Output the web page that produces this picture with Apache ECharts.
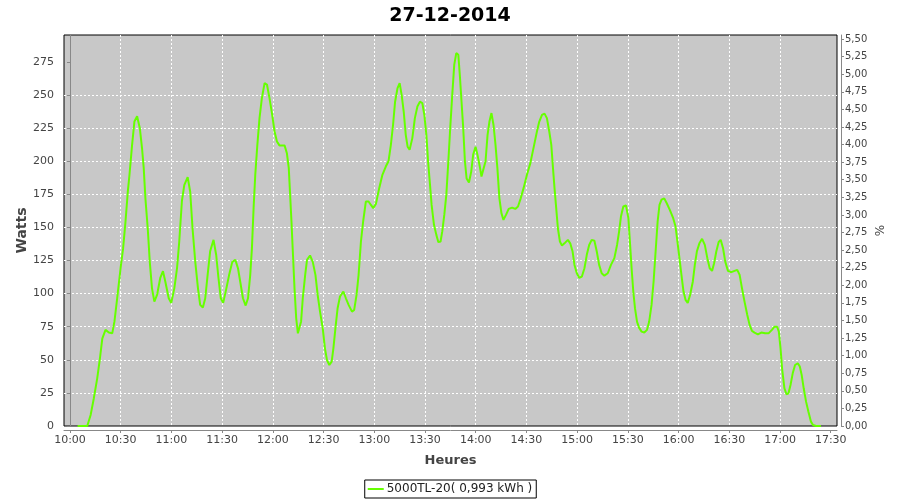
<!DOCTYPE html>
<html><head><meta charset="utf-8">
<script src="https://cdn.jsdelivr.net/npm/echarts@6/dist/echarts.min.js"></script>
<style>html,body{margin:0;padding:0;background:#fff}#c{width:900px;height:500px}</style>
</head><body><div id="c"></div>
<script>
const chartTitle = '27-12-2014';
const seriesName = '5000TL-20( 0,993 kWh )';
const xName = 'Heures';
const yLeftName = 'Watts';
const yRightName = '%';
// minutes after 10:00
const minutes = [4.5,10.2,12.2,14.1,16.1,17.7,19.1,21,23,25,26.3,27.9,29.9,31.4,32.8,34.2,35.2,36.7,38.1,39.7,41.3,42.6,43.6,44.6,46,47.2,48.5,49.9,51.5,53.4,55,56.4,58.4,59.9,61.7,63.3,64.6,66.2,67.6,69.6,71.1,72.5,74.1,75.7,77,78.6,80,81.4,82.9,84.9,86.5,87.8,89.2,90.6,92.5,94.1,96,97.8,99.4,100.7,102.3,103.9,105.3,106.6,107.6,108.6,109.6,110.8,112.1,113.5,115.1,116.5,118,119.6,121,122.4,123.9,126.9,128.3,129.4,130.2,131,131.8,132.8,133.8,134.8,135.7,136.7,137.7,139.1,140.2,142,143.6,145.2,146.5,147.9,149.5,150.8,152,153.4,154.8,155.8,157,158.3,159.7,161.7,163.2,164.8,166.8,168.1,169.5,170.7,172.1,173.4,175,176.6,178,179.4,181,182.9,184.8,186.8,188.4,189.8,191.1,192.3,193.7,195,196.2,197.4,198.6,199.7,200.9,202.5,204,205.5,207,208.4,209.6,210.8,211.8,212.8,213.9,215.3,216.7,217.9,219.2,220.2,221.4,222.6,223.8,224.9,226.1,227.3,228.5,229.7,230.6,231.6,232.6,233.6,234.6,236,237.3,238.5,239.9,241,242.4,243.4,244.4,245.8,247,248.1,249.3,250.5,251.7,252.8,254,255.2,256.4,257.9,259.5,261.5,263.4,265,266.6,268.3,270.3,272.3,274.5,276.2,277.6,279.2,280.7,282.1,283.5,284.7,285.7,286.6,287.6,288.6,289.8,291,292.5,294.5,295.9,297.3,298.4,299.8,301.2,302.8,304.3,305.7,307.1,308.6,310.2,311.6,313,314.5,316.1,318.1,320,322,323.6,324.8,325.9,327.3,328.9,330.3,331.2,332.2,333.2,334.2,335.4,336.6,338.1,339.7,341.3,342.6,344,345.2,346.4,347.6,348.7,349.9,351.5,353,354.8,356.8,358.2,359.3,360.5,361.7,362.9,364.1,365.4,366.8,368.4,369.6,370.8,372.3,373.9,375.5,377,378.4,379.8,381,382.3,383.7,384.9,386.3,387.6,389.2,391.2,393.1,394.7,396.1,397.5,399,400.6,402,403.4,404.9,406.9,408.9,411.2,413.2,415.2,416.7,418.3,419.3,420.3,421.2,422.6,423.8,425,426.2,427.5,428.9,430.5,431.7,432.8,434,435.4,436.8,438.3,439.5,441.3,444.2];
const watts = [0,0,8.3,21,36,51,66,72.6,70.6,70,79,96.5,119,134,154,177,190,212,230,234,225,210,195,172,149,124,104,94,99,112,117,109,96.5,93,104,119,139,170,182,188,177,149,124,104,91.5,89.5,96.5,114,132,140.6,129,112,96.5,93,104,114,124,125.5,119,109,96.5,91,96.5,114,134,164.6,190,212,232.6,247.7,259,258,247.7,235,222.5,215,212,212,206,195,175,154.5,132,104,81.4,70,69,79,96.5,114,125.5,128.8,124,114,99,86.4,73.8,58.7,49.9,46.1,48.6,58.7,73.8,89,97.8,101.6,96.5,91.5,86.4,87.7,99,114,139.4,154.5,169.6,169.6,167,164.6,168,179.7,189.8,196,200,212.4,227.6,245,255,259,250,237.6,220,211,208.7,217.5,232.6,241.4,245,244,235,220,200,184.7,167,152,144.4,138.9,139.4,147,159.5,174.6,200,225,250,273,281.7,280.5,265,245,225,200,187,184,192,205,211,205,196,188.5,188.5,200,220,230,236.4,227.6,212.4,195,172,160.8,155.7,159.5,164,165,164,165.8,172,179.7,189.8,198.6,212,222.5,230,235,236,232.6,222.5,212.4,194.8,179.7,164.6,149.4,139.4,136.3,138,140.6,138,131.8,121.7,115.4,112,112.9,119.2,129.3,136.8,140.6,140,131.8,121.7,115.4,113.6,115.4,121.7,126.8,136.8,146.9,158.2,165.8,166.6,157,139.4,119.2,101.6,89,78.9,74.3,71.3,70.6,72.6,78.9,91.5,109,131.8,154.5,167,171,172,168.3,163.3,157,150.7,139.4,126.8,114,101.6,95.3,93,99,109,121.7,131.8,138,141.4,136.8,126.8,119.2,117.2,123,131.8,139,140.6,134.3,124.2,117.2,116.2,117.2,118,114.2,104,94,84,76.4,71.8,70.6,69.3,70.6,70,70,72.6,75,75,71.3,58.7,43.6,28.5,24,24.7,31,39.8,46.1,47.4,44.9,38.6,28.5,18.4,10.8,3.3,0.8,0,0];
const xTickValues = [0,30,60,90,120,150,180,210,240,270,300,330,360,390,420,450];
const wattTickValues = [0,25,50,75,100,125,150,175,200,225,250,275];
const pctTickValues = [0,0.25,0.5,0.75,1,1.25,1.5,1.75,2,2.25,2.5,2.75,3,3.25,3.5,3.75,4,4.25,4.5,4.75,5,5.25,5.5];

const FONT = 'DejaVu Sans';
const dash = {color: '#ffffff', width: 1, type: [2, 2]};
const data = minutes.map((m, i) => [m, watts[i]]);

const chart = echarts.init(document.getElementById('c'), null, {renderer: 'canvas'});
chart.setOption({
  animation: false,
  backgroundColor: '#ffffff',
  title: {
    text: chartTitle, left: 'center', top: 2,
    textStyle: {fontFamily: FONT, fontSize: 19, fontWeight: 'bold', color: '#000'}
  },
  legend: {
    bottom: 2, left: 'center',
    borderColor: '#000', borderWidth: 1, padding: [3, 4, 3, 3],
    icon: 'rect', itemWidth: 16, itemHeight: 2, itemGap: 5,
    textStyle: {fontFamily: FONT, fontSize: 12, color: '#222', padding: [0, 0, 0, -2]},
    data: [seriesName]
  },
  grid: {
    left: 64, right: 63, top: 35, bottom: 74,
    show: true, backgroundColor: '#c8c8c8', borderColor: '#000', borderWidth: 1,
    containLabel: false
  },
  xAxis: {
    type: 'value', min: -3.55, max: 453.7,
    minInterval: 30, maxInterval: 30, splitNumber: 15,
    offset: 4,
    name: xName, nameLocation: 'middle', nameGap: 24, nameMoveOverlap: false,
    nameTextStyle: {fontFamily: FONT, fontSize: 13, fontWeight: 'bold', color: '#444'},
    axisLine: {show: true, onZero: false, lineStyle: {color: '#888', width: 1}},
    axisTick: {show: true, length: 3, inside: false, customValues: xTickValues, lineStyle: {color: '#888'}},
    axisLabel: {
      customValues: xTickValues, margin: 5,
      fontFamily: FONT, fontSize: 11, color: '#444',
      formatter: v => { const h = 10 + Math.floor(v / 60); const mm = Math.round(v % 60); return h + ':' + (mm < 10 ? '0' : '') + mm; }
    },
    splitLine: {show: true, showMinLine: false, showMaxLine: false, lineStyle: dash}
  },
  yAxis: [{
    type: 'value', min: 0, max: 295.4, position: 'left',
    minInterval: 25, maxInterval: 25, splitNumber: 12,
    offset: 4,
    name: yLeftName, nameLocation: 'middle', nameGap: 31, nameRotate: 90, nameMoveOverlap: false,
    nameTextStyle: {fontFamily: FONT, fontSize: 14, fontWeight: 'bold', color: '#444'},
    axisLine: {show: true, lineStyle: {color: '#888', width: 1}},
    axisTick: {show: true, length: 3, customValues: wattTickValues, lineStyle: {color: '#888'}},
    axisLabel: {customValues: wattTickValues, margin: 6, fontFamily: FONT, fontSize: 11, color: '#444'},
    splitLine: {show: true, showMinLine: false, showMaxLine: false, lineStyle: dash}
  }, {
    type: 'value', min: 0, max: 5.557, position: 'right',
    minInterval: 0.25, maxInterval: 0.25, splitNumber: 22,
    offset: 4,
    name: yRightName, nameLocation: 'middle', nameGap: 34, nameRotate: 90, nameMoveOverlap: false,
    nameTextStyle: {fontFamily: FONT, fontSize: 12, color: '#444'},
    axisLine: {show: true, lineStyle: {color: '#888', width: 1}},
    axisTick: {show: true, length: 3, customValues: pctTickValues, lineStyle: {color: '#888'}},
    axisLabel: {
      customValues: pctTickValues, margin: 4, fontFamily: FONT, fontSize: 10, color: '#444',
      formatter: v => v.toFixed(2).replace('.', ',')
    },
    splitLine: {show: false}
  }],
  series: [{
    name: seriesName, type: 'line', data: data,
    xAxisIndex: 0, yAxisIndex: 0,
    showSymbol: false, symbol: 'none', smooth: false,
    lineStyle: {color: '#66ff00', width: 2},
    itemStyle: {color: '#66ff00'}
  }]
});
</script>
</body></html>
